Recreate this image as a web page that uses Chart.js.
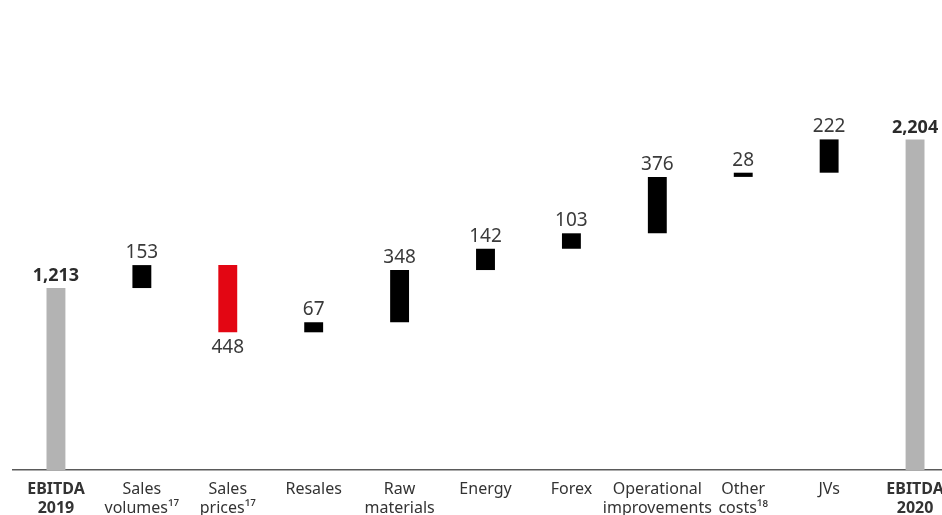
<!DOCTYPE html>
<html>
<head>
<meta charset="utf-8">
<script src="https://cdn.jsdelivr.net/npm/chart.js@4.4.0/dist/chart.umd.min.js"></script>
<style>
  html, body { margin: 0; padding: 0; background: #fff; overflow: hidden; }
  #wrap { position: relative; width: 960px; height: 515px; }
</style>
</head>
<body>
<div id="wrap"><canvas id="myChart"></canvas></div>
<script>
// EBITDA bridge 2019 -> 2020
var categories = [
  ['EBITDA', '2019'],
  ['Sales', 'volumes¹⁷'],
  ['Sales', 'prices¹⁷'],
  'Resales',
  ['Raw', 'materials'],
  'Energy',
  'Forex',
  ['Operational', 'improvements'],
  ['Other', 'costs¹⁸'],
  'JVs',
  ['EBITDA', '2020']
];
var startTotal = 1213;
var changes = [153, -448, 67, 348, 142, 103, 376, 28, 222];
var endTotal = 2204;

var GREY = '#b3b3b3', UP = '#000000', DOWN = '#e30613';

// floating bars: totals start at zero, changes float on the running sum
var bars = [[0, startTotal]];
var colors = [GREY];
var run = startTotal;
for (var i = 0; i < changes.length; i++) {
    bars.push([run, run + changes[i]]);
    colors.push(changes[i] < 0 ? DOWN : UP);
    run += changes[i];
}
bars.push([0, endTotal]);
colors.push(GREY);

var labelText = [startTotal].concat(changes.map(Math.abs), [endTotal]);

function fmt(v) {
    return v.toLocaleString('en-US');
}

// value labels above (or below, for drops) each bar
const valueLabels = {
    id: 'valueLabels',
    afterDatasetsDraw(chart) {
        const ctx = chart.ctx;
        const meta = chart.getDatasetMeta(0);
        ctx.save();
        ctx.textAlign = 'center';
        meta.data.forEach(function (bar, idx) {
            const total = idx === 0 || idx === bars.length - 1;
            const neg = !total && changes[idx - 1] < 0;
            ctx.fillStyle = total ? '#2b2b2b' : '#3a3a3a';
            ctx.font = (total ? 'bold 18px' : '19px') + ' "Noto Sans"';
            const top = Math.min(bar.y, bar.base);
            const bottom = Math.max(bar.y, bar.base);
            if (neg) {
                ctx.textBaseline = 'top';
                ctx.fillText(fmt(labelText[idx]), bar.x, bottom + 6);
            } else {
                ctx.textBaseline = 'bottom';
                ctx.fillText(fmt(labelText[idx]), bar.x, top - 3);
            }
        });
        ctx.restore();
    }
};

const data = {
    labels: categories,
    datasets: [{
        data: bars,
        backgroundColor: colors,
        borderWidth: 0,
        barPercentage: 0.22,
        categoryPercentage: 1.0
    }]
};

const config = {
    type: 'bar',
    data: data,
    options: {
        responsive: true,
        maintainAspectRatio: false,
        animation: false,
        layout: {padding: {left: 13, right: 2, top: 20, bottom: 0}},
        plugins: {
            legend: {display: false},
            tooltip: {enabled: false}
        },
        scales: {
            x: {
                grid: {display: false, drawTicks: false},
                border: {display: true, color: '#5a5a5a', width: 1.5},
                ticks: {
                    padding: 10,
                    color: '#333333',
                    maxRotation: 0,
                    autoSkip: false,
                    font: function (c) {
                        const last = categories.length - 1;
                        const bold = c.index === 0 || c.index === last;
                        return {family: 'Noto Sans', size: 16, weight: bold ? 'bold' : 'normal', lineHeight: 1.2};
                    }
                },
                afterFit: function (scale) { scale.height = 45; }
            },
            y: {
                display: false,
                min: 0,
                max: 3000
            }
        }
    },
    plugins: [valueLabels]
};

let myChart = new Chart(document.getElementById('myChart'), config);
</script>
</body>
</html>
